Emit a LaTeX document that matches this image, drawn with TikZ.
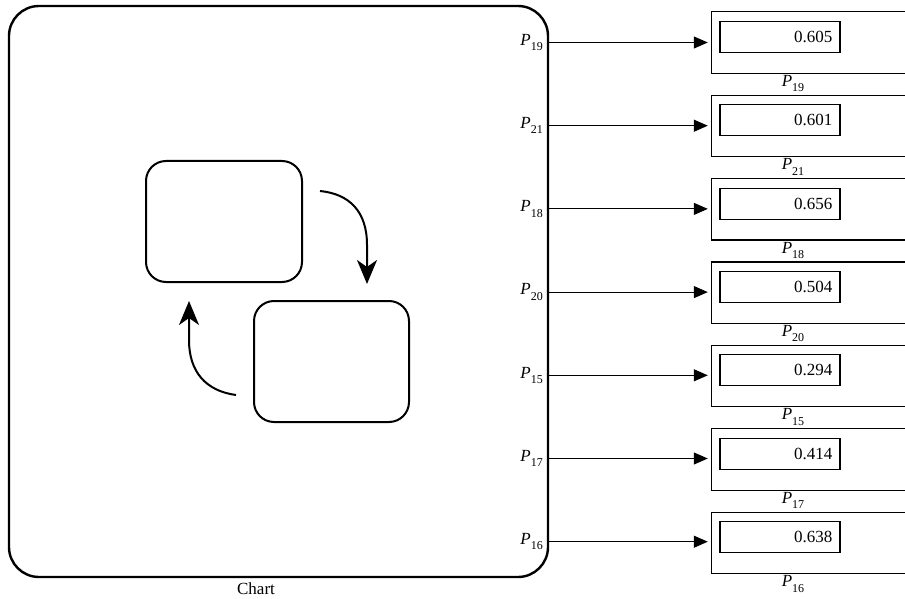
\documentclass[tikz,border=0pt]{standalone}
\usepackage{fontspec}
\setmainfont{Liberation Serif}
\usetikzlibrary{arrows.meta}
\newcommand{\sublbl}[1]{\textit{P}\raisebox{-0.7ex}{\fontsize{12}{13}\selectfont #1}}
\begin{document}
\begin{tikzpicture}[x=1pt,y=-1pt,
  chartbox/.style={draw, line width=2.4pt, rounded corners=30pt, inner sep=0pt},
  statebox/.style={draw, line width=2pt, rounded corners=20pt, inner sep=0pt},
  valbox/.style={draw, line width=1.1pt, minimum width=120pt, minimum height=31pt, inner sep=0pt},
  outbox/.style={minimum width=194pt, minimum height=61pt, inner sep=0pt},
  sig/.style={-{Triangle[length=14pt,width=12pt]}, line width=1.1pt, shorten >=4pt},
  loop/.style={-{Stealth[length=24pt,width=20pt,inset=7pt]}, line width=2pt},
  txt/.style={font=\fontsize{17}{20}\selectfont, inner sep=0pt}]
\useasboundingbox (0,0) rectangle (905,599);

% Chart block
\node[chartbox, minimum width=539pt, minimum height=571pt] (chart) at (278.5,291.5) {};
\node[txt, anchor=north] (chartlbl) at (256,582) {Chart};

% two states with transitions
\node[statebox, minimum width=156pt, minimum height=121pt] (sA) at (224,221.5) {};
\node[statebox, minimum width=155pt, minimum height=121pt] (sB) at (331.5,361.5) {};
\coordinate (a1s) at (320,191);
\coordinate (a1e) at (367,284);
\coordinate (a2s) at (236,395);
\coordinate (a2e) at (189,301);
\draw[loop] (a1s) .. controls (350,194) and (367,212) .. (367,245) -- (a1e);
\draw[loop] (a2s) .. controls (206,391) and (189,372) .. (189,340) -- (a2e);

% outputs with display blocks
\foreach \s/\v [count=\i from 0] in {19/0.605, 21/0.601, 18/0.656, 20/0.504, 15/0.294, 17/0.414, 16/0.638}{
  \node[outbox] (ob\i) at (809,{42.5+83.4*\i}) {};
  \draw[line width=1.1pt] (ob\i.north east) -- (ob\i.north west) -- (ob\i.south west) -- (ob\i.south east);
  \node[valbox] (vb\i) at (780,{36.8+83.4*\i}) {};
  \node[txt, anchor=east] (val\i) at ([xshift=-8pt]vb\i.east) {\v};
  \node[txt, anchor=north] (ol\i) at (793,{75+83.4*\i}) {\sublbl{\s}};
  \node[txt, anchor=east] (pl\i) at (543,{42.5+83.2*\i}) {\sublbl{\s}};
  \draw[sig] (chart.east |- pl\i.east) -- (ob\i.west |- pl\i.east);
}
\end{tikzpicture}
\end{document}
